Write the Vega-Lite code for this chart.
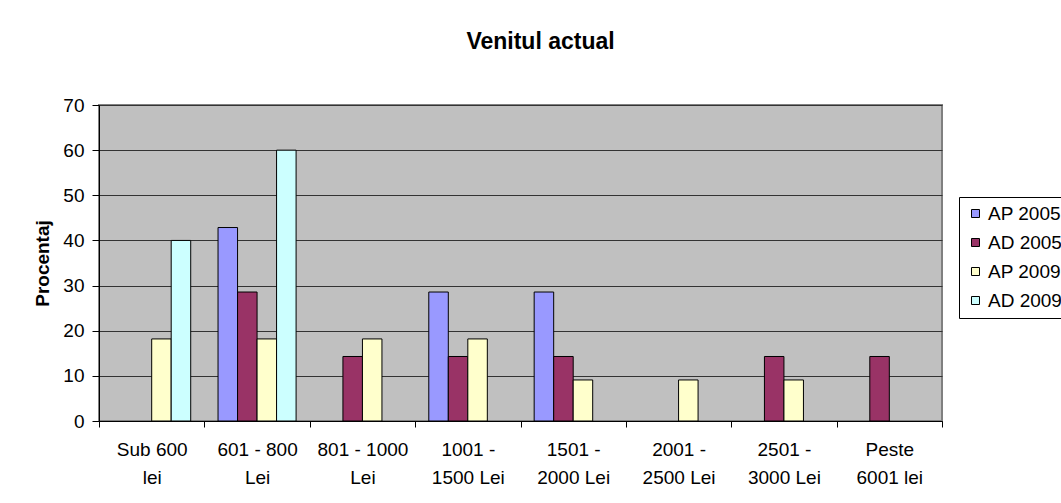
{
  "$schema": "https://vega.github.io/schema/vega-lite/v6.json",
  "width": 843,
  "height": 316,
  "autosize": "none",
  "padding": {"left": 99, "top": 105, "right": 119, "bottom": 82},
  "background": "white",
  "title": {
    "text": "Venitul actual",
    "font": "Liberation Sans",
    "fontSize": 23,
    "fontWeight": "bold",
    "color": "black",
    "anchor": "middle",
    "baseline": "alphabetic",
    "offset": 24,
    "dx": 20
  },
  "data": {
    "values": [
      {"cat": "Sub 600 lei", "series": "AP 2009", "value": 18.18},
      {"cat": "Sub 600 lei", "series": "AD 2009", "value": 40},
      {"cat": "601 - 800 Lei", "series": "AP 2005", "value": 42.86},
      {"cat": "601 - 800 Lei", "series": "AD 2005", "value": 28.57},
      {"cat": "601 - 800 Lei", "series": "AP 2009", "value": 18.18},
      {"cat": "601 - 800 Lei", "series": "AD 2009", "value": 60},
      {"cat": "801 - 1000 Lei", "series": "AD 2005", "value": 14.29},
      {"cat": "801 - 1000 Lei", "series": "AP 2009", "value": 18.18},
      {"cat": "1001 - 1500 Lei", "series": "AP 2005", "value": 28.57},
      {"cat": "1001 - 1500 Lei", "series": "AD 2005", "value": 14.29},
      {"cat": "1001 - 1500 Lei", "series": "AP 2009", "value": 18.18},
      {"cat": "1501 - 2000 Lei", "series": "AP 2005", "value": 28.57},
      {"cat": "1501 - 2000 Lei", "series": "AD 2005", "value": 14.29},
      {"cat": "1501 - 2000 Lei", "series": "AP 2009", "value": 9.09},
      {"cat": "2001 - 2500 Lei", "series": "AP 2009", "value": 9.09},
      {"cat": "2501 - 3000 Lei", "series": "AD 2005", "value": 14.29},
      {"cat": "2501 - 3000 Lei", "series": "AP 2009", "value": 9.09},
      {"cat": "Peste 6001 lei", "series": "AD 2005", "value": 14.29}
    ]
  },
  "mark": {"type": "bar", "stroke": "black", "strokeWidth": 1},
  "encoding": {
    "x": {
      "field": "cat",
      "type": "nominal",
      "sort": ["Sub 600 lei", "601 - 800 Lei", "801 - 1000 Lei", "1001 - 1500 Lei", "1501 - 2000 Lei", "2001 - 2500 Lei", "2501 - 3000 Lei", "Peste 6001 lei"],
      "scale": {"paddingInner": 0, "paddingOuter": 0},
      "axis": {
        "title": null,
        "labelAngle": 0,
        "tickBand": "extent",
        "labelFont": "Liberation Sans",
        "labelFontSize": 19,
        "labelColor": "black",
        "labelLineHeight": 28,
        "labelPadding": 13,
        "labelBound": false,
        "labelOverlap": false,
        "tickSize": 6,
        "tickColor": "black",
        "domainColor": "black",
        "grid": false,
        "labelExpr": "datum.value == 'Sub 600 lei' ? ['Sub 600', 'lei'] : datum.value == '601 - 800 Lei' ? ['601 - 800', 'Lei'] : datum.value == '801 - 1000 Lei' ? ['801 - 1000', 'Lei'] : datum.value == '1001 - 1500 Lei' ? ['1001 -', '1500 Lei'] : datum.value == '1501 - 2000 Lei' ? ['1501 -', '2000 Lei'] : datum.value == '2001 - 2500 Lei' ? ['2001 -', '2500 Lei'] : datum.value == '2501 - 3000 Lei' ? ['2501 -', '3000 Lei'] : datum.value == 'Peste 6001 lei' ? ['Peste', '6001 lei'] : ''"
      }
    },
    "xOffset": {
      "field": "series",
      "type": "nominal",
      "scale": {"domain": ["AP 2005", "AD 2005", "AP 2009", "AD 2009"], "paddingInner": 0, "paddingOuter": 0.7}
    },
    "y": {
      "field": "value",
      "type": "quantitative",
      "scale": {"domain": [0, 70], "nice": false},
      "axis": {
        "title": "Procentaj",
        "titleFont": "Liberation Sans",
        "titleFontSize": 19,
        "titleFontWeight": "bold",
        "titleColor": "black",
        "titlePadding": 10,
        "values": [0, 10, 20, 30, 40, 50, 60, 70],
        "labelFont": "Liberation Sans",
        "labelFontSize": 19,
        "labelColor": "black",
        "labelPadding": 8,
        "tickSize": 7,
        "tickColor": "black",
        "domainColor": "black",
        "grid": true,
        "gridColor": "#333333",
        "gridOpacity": 1,
        "gridWidth": 1
      }
    },
    "color": {
      "field": "series",
      "type": "nominal",
      "scale": {
        "domain": ["AP 2005", "AD 2005", "AP 2009", "AD 2009"],
        "range": ["#9999FF", "#993366", "#FFFFCC", "#CCFFFF"]
      },
      "legend": {
        "title": null,
        "orient": "none",
        "legendX": 860,
        "legendY": 92,
        "strokeColor": "black",
        "fillColor": "white",
        "padding": 7,
        "symbolType": "square",
        "symbolSize": 64,
        "symbolStrokeColor": "black",
        "symbolStrokeWidth": 1,
        "symbolOpacity": 1,
        "labelFont": "Liberation Sans",
        "labelFontSize": 19,
        "labelColor": "black",
        "labelOffset": 3,
        "rowPadding": 9
      }
    }
  },
  "config": {
    "view": {"fill": "#C0C0C0", "stroke": "#808080", "strokeWidth": 2}
  }
}
